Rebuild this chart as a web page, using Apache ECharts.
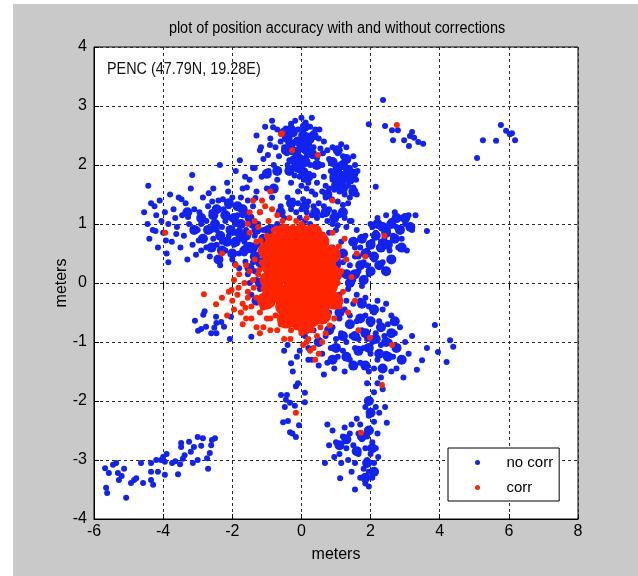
<!DOCTYPE html>
<html>
<head>
<meta charset="utf-8">
<title>position accuracy</title>
<script src="https://cdn.jsdelivr.net/npm/echarts@6/dist/echarts.min.js"></script>
<style>
  html, body { margin: 0; padding: 0; background: #fff; }
  #main { width: 638px; height: 576px; }
</style>
</head>
<body>
<div id="main"></div>
<script>
// axis ticks
var xTicks = [-6, -4, -2, 0, 2, 4, 6, 8];
var yTicks = [-4, -3, -2, -1, 0, 1, 2, 3, 4];

// no corr (blue), read off the picture cluster by cluster
var noCorrUpper = [
  [-0.55,2.55],[-0.45,2.62],[-0.3,2.7],[-0.18,2.75],[0.0,2.8],[0.12,2.72],[0.25,2.65],[0.4,2.6],
  [-0.6,2.4],[-0.48,2.45],[-0.35,2.5],[-0.22,2.55],[-0.1,2.6],[0.05,2.58],[0.18,2.5],[0.3,2.48],
  [0.5,2.45],[-0.5,2.3],[-0.38,2.35],[-0.25,2.38],[-0.12,2.42],[0.0,2.45],[0.1,2.38],[0.22,2.35],
  [0.35,2.3],[0.55,2.28],[-0.42,2.2],[-0.3,2.22],[-0.18,2.25],[-0.05,2.28],[0.08,2.25],[0.2,2.2],
  [0.32,2.15],[0.45,2.12],[-0.35,2.08],[-0.22,2.1],[-0.1,2.12],[0.02,2.1],[0.14,2.05],[0.26,2.0],
  [0.4,1.98],[-0.28,1.95],[-0.15,1.98],[-0.02,1.95],[0.1,1.9],[0.22,1.85],[0.35,1.82],[-0.2,1.82],
  [-0.05,1.8],[0.08,1.75],[0.2,1.7],[0.0,1.65],[0.15,1.6],[-0.1,1.55],[0.3,1.55],[-0.3,1.7],
  [0.45,1.7],[0.6,2.0],[0.62,2.2],[0.52,2.6],[0.65,2.4],[-0.65,2.15],[-0.7,2.6],[0.3,2.8],
  [-0.05,2.35],[0.15,2.15],[-0.2,2.0],[0.28,2.42],[-0.4,2.0],[0.05,2.0],
  [-0.82,2.64],[-0.59,2.54],[-1.17,2.3],[-0.91,2.34],[-0.97,2.17],[-1.4,1.95],[-1.63,1.8],
  [-1.3,2.5],[-1.05,2.65],[-0.9,2.45],[-0.75,2.3],[-1.2,2.25],[-0.85,2.75]
];
var noCorrUpperRight = [
  [0.75,2.25],[0.9,2.3],[1.05,2.2],[1.2,2.15],[1.35,2.1],[0.8,2.1],[0.95,2.05],[1.1,2.0],
  [1.25,1.98],[1.4,1.95],[1.55,2.0],[0.85,1.9],[1.0,1.88],[1.15,1.85],[1.3,1.82],[1.45,1.8],
  [0.9,1.75],[1.05,1.72],[1.2,1.7],[1.35,1.65],[1.5,1.62],[0.8,1.6],[0.95,1.58],[1.1,1.55],
  [1.25,1.5],[1.4,1.45],[1.6,1.5],[0.7,1.45],[0.88,1.42],[1.05,1.38],[1.2,1.32],[1.58,1.75],
  [1.62,1.9],[1.5,2.15],[1.3,2.3],[1.15,2.35],[0.65,1.8],[0.7,1.65],[1.35,1.35],[2.15,1.63]
];
var noCorrMiddle = [
  [-0.4,1.45],[-0.25,1.4],[-0.1,1.35],[0.05,1.42],[0.2,1.38],[0.35,1.3],[0.5,1.35],[0.65,1.3],
  [0.8,1.25],[0.95,1.2],[1.1,1.15],[1.25,1.1],[-0.3,1.25],[-0.15,1.2],[0.0,1.25],[0.15,1.2],
  [0.3,1.15],[0.45,1.1],[0.6,1.15],[0.75,1.05],[0.9,1.0],[1.05,0.98],[1.4,1.05],[-0.5,1.1],
  [0.4,1.5],[0.6,1.55],[-0.6,1.3],[0.1,1.05],[0.25,1.0],[-0.05,1.1],
  [-1.1,0.9],[-0.95,0.7],[-1.15,0.3],[-1.0,0.1],[-1.2,-0.1],[-0.9,0.45],[-1.05,-0.3],[-0.85,0.95],
  [-1.25,0.65],[-1.35,0.2],[-1.5,0.0],[-1.45,-0.2],[-0.7,1.0],[-0.55,0.95]
];
var noCorrLeft = [
  [-4.55,1.2],[-4.45,1.0],[-4.4,0.75],[-4.35,1.35],[-4.3,0.9],[-4.43,1.65],[-4.2,1.15],[-4.15,0.6],
  [-4.1,1.4],[-4.0,0.85],[-3.95,1.2],[-3.9,0.5],[-3.85,1.0],[-3.8,1.5],[-3.75,0.7],[-3.7,1.25],
  [-3.6,0.95],[-3.55,1.45],[-3.5,0.6],[-3.45,1.15],[-3.4,0.8],[-3.35,1.35],[-3.3,0.4],[-3.25,1.0],
  [-3.2,1.6],[-3.15,0.65],[-3.1,1.25],[-3.16,1.83],[-4.25,1.3],[-4.05,1.05],[-3.65,1.1],[-3.85,0.35],
  [-3.0,0.9],[-2.95,1.2],[-2.9,0.55],[-2.85,1.45],[-2.8,0.75],[-2.75,1.05],[-2.7,1.3],[-2.65,0.45],
  [-2.6,0.9],[-2.55,1.6],[-2.5,1.15],[-2.45,0.65],[-2.4,1.4],[-2.36,2.0],[-2.35,0.3],[-2.3,0.95],
  [-2.25,1.25],[-2.2,0.55],[-2.15,1.7],[-2.1,0.8],[-2.05,1.1],[-2.0,1.45],[-2.0,0.4],[-1.95,0.65],
  [-1.9,1.9],[-1.9,1.0],[-1.85,1.3],[-1.8,0.25],[-1.78,2.08],[-1.75,0.75],[-1.7,1.6],[-1.7,1.15],
  [-1.65,0.5],[-1.6,0.9],[-1.55,1.4],[-1.55,0.15],[-1.5,1.75],[-1.5,0.65],[-1.45,1.05],[-1.4,0.35],
  [-1.4,1.3],[-1.35,0.8],[-1.3,1.55],[-1.3,0.05],[-1.25,1.0],[-1.2,0.5],[-1.2,1.2],[-1.15,1.8],
  [-2.9,1.0],[-2.6,1.2],[-2.3,0.7],[-2.2,1.05],[-1.95,0.85],[-1.8,0.5],[-1.85,1.15],[-1.6,1.2],
  [-1.65,0.7],[-2.45,0.9],[-2.75,0.6],[-2.1,1.3],[-1.45,0.55],[-1.75,1.45],[-2.55,0.75],[-1.35,1.95],
  [-1.1,2.1],[-1.0,1.6],[-0.95,1.9],[-0.8,2.0],[-0.7,1.75],[-0.85,1.45],
  [-3.62,0.83],[-3.28,1.12],[-3.05,0.48],[-2.68,1.52],[-2.42,0.42],[-2.12,1.55],[-1.92,0.32],[-1.58,1.62],
  [-3.92,0.72],[-4.22,0.88],[-3.47,1.42],[-2.97,0.72],[-2.58,1.38],[-2.27,1.42],[-1.62,0.36],[-1.33,1.44]
];
var noCorrRight = [
  [0.6,0.7],[0.7,0.5],[0.8,0.85],[0.85,0.3],[0.9,0.6],[0.95,0.0],[1.0,0.9],[1.05,0.4],
  [1.1,-0.2],[1.15,0.7],[1.2,0.15],[1.25,0.5],[1.3,0.95],[1.35,-0.1],[1.4,0.3],[1.45,0.7],
  [1.5,0.05],[1.55,0.45],[1.6,0.9],[1.65,0.2],[1.7,0.6],[1.75,-0.05],[1.8,0.35],[1.85,0.8],
  [1.9,0.55],[1.95,0.15],[2.0,1.0],[2.05,0.7],[2.1,0.4],[2.15,0.85],[2.2,1.1],[2.25,0.6],
  [2.3,0.95],[2.35,0.35],[2.4,0.75],[2.45,1.15],[2.5,0.9],[2.55,0.55],[2.6,1.05],[2.65,0.8],
  [2.7,1.2],[2.75,0.95],[2.85,1.1],[2.9,0.75],[3.0,1.0],[3.1,1.15],[3.2,0.9],[3.3,1.15],
  [3.63,0.88],[1.2,0.35],[1.55,0.6],[1.9,0.3],[2.05,0.95],[2.3,0.7],[2.55,1.0],[1.0,0.2],
  [0.75,0.1],[1.3,-0.3],[1.65,0.45],[2.8,0.6],[3.05,0.55],[2.4,0.2],[1.45,1.05]
];
var noCorrLowerRight = [
  [0.1,-0.9],[0.2,-1.1],[0.3,-1.3],[0.35,-0.8],[0.45,-1.0],[0.5,-1.4],[0.55,-0.6],[0.6,-1.2],
  [0.7,-0.9],[0.75,-1.35],[0.8,-0.5],[0.85,-1.1],[0.9,-0.75],[0.95,-1.45],[1.0,-0.95],[1.05,-1.25],
  [1.1,-0.6],[1.15,-0.85],[1.2,-1.15],[1.25,-0.45],[1.3,-1.0],[1.35,-0.7],[1.4,-1.3],[1.45,-0.9],
  [1.5,-0.35],[1.55,-1.1],[1.6,-0.65],[1.65,-0.95],[1.7,-0.3],[1.7,-1.35],[1.75,-0.8],[1.8,-1.1],
  [1.85,-0.55],[1.9,-0.95],[1.95,-0.4],[2.0,-1.2],[2.0,-0.7],[2.05,-1.0],[2.1,-0.5],[2.15,-0.85],
  [2.2,-1.3],[2.25,-0.65],[2.3,-1.05],[2.35,-0.45],[2.4,-0.9],[2.45,-1.2],[2.5,-0.7],[2.55,-1.0],
  [2.6,-0.55],[2.65,-1.25],[2.7,-0.85],[2.75,-1.45],[2.8,-1.1],[2.85,-0.75],[2.9,-1.3],[3.0,-1.0],
  [3.1,-1.2],[3.2,-0.9],[2.95,-1.6],[2.6,-1.5],[3.86,-0.71],[4.3,-0.97],[4.39,-1.08],[4.2,-1.34],
  [3.95,-1.17],[3.63,-1.1],[3.49,-1.31],[3.34,-1.47],[1.6,-0.2],[1.85,-0.25],[2.2,-0.3],[1.4,-0.55],
  [2.1,-1.45],[2.3,-1.6],[1.95,-1.5],[2.45,-0.35],[1.25,-1.5],[0.65,-1.55],[1.9,-1.7]
];
var noCorrLowerStem = [
  [2.1,-1.85],[2.0,-2.0],[2.15,-2.1],[1.95,-2.25],[2.1,-2.35],[2.0,-2.5],[1.9,-2.6],[2.05,-2.7],
  [1.85,-2.8],[2.0,-2.9],[1.9,-3.0],[2.1,-3.05],[1.8,-3.15],[1.95,-3.2],[2.05,-3.3],[1.85,-3.4],
  [1.7,-2.4],[1.75,-2.65],[1.65,-2.9],[1.55,-3.05],[1.5,-2.75],[1.4,-2.55],[1.3,-2.8],[1.2,-2.6],
  [1.1,-2.9],[1.0,-2.7],[0.9,-2.5],[0.8,-2.75],[0.75,-2.4],[1.35,-3.0],[1.25,-2.45],[1.6,-2.3],
  [2.2,-2.55],[2.25,-2.2],[1.45,-3.2],[1.7,-3.3],[1.95,-3.45],[2.15,-2.8],[1.65,-2.55],[1.45,-2.4],
  [0.95,-2.95],[1.15,-3.05],[0.68,-3.05],[1.55,-3.5],[2.2,-1.7],[2.35,-1.8],[2.47,-2.37],[2.42,-2.1],
  [1.85,-2.1],[1.12,-3.31],[2.22,-2.95]
];
var noCorrCenterStem = [
  [-0.3,-1.36],[-0.13,-1.25],[-0.16,-1.75],[-0.1,-1.7],[0.1,-1.86],[0.1,-2.02],[-0.59,-1.9],[-0.42,-1.9],
  [-0.48,-2.1],[-0.33,-2.03],[-0.19,-2.08],[-0.53,-2.36],[-0.39,-2.34],[-0.07,-2.41],[-0.33,-2.53],[-0.26,-2.55],
  [-0.16,-2.61],[-0.45,-1.98],[-0.25,-1.5],[0.2,-1.3],[-0.5,-1.15],[-0.05,-1.15],[-0.4,-1.05]
];
var noCorrLeftSmall = [
  [-3.08,-0.64],[-2.84,-0.54],[-2.99,-0.81],[-2.9,-0.78],[-2.76,-0.74],[-2.61,-0.85],[-2.47,-0.57],[-2.46,-0.68],
  [-2.46,-0.85],[-2.32,-0.66],[-2.24,-0.74],[-2.8,-0.48],[-2.52,-0.76],[-2.04,-0.57],[-2.07,-0.95],[-1.45,-0.91]
];
var noCorrLowerLeft = [
  [-5.68,-3.14],[-5.57,-3.22],[-5.65,-3.47],[-5.62,-3.56],[-5.45,-3.08],[-5.36,-3.05],[-5.31,-3.22],[-5.28,-3.34],
  [-5.2,-3.27],[-5.13,-3.15],[-5.07,-3.64],[-4.93,-3.39],[-4.84,-3.34],[-4.78,-3.31],[-4.64,-3.05],[-4.58,-3.39],
  [-4.35,-3.05],[-4.35,-3.2],[-4.35,-3.34],[-4.29,-3.42],[-4.2,-3.0],[-4.15,-3.2],[-4.06,-3.0],[-4.0,-2.95],
  [-3.95,-3.03],[-3.9,-2.9],[-3.95,-3.25],[-3.74,-3.05],[-3.65,-3.02],[-3.57,-3.24],[-3.51,-3.07],[-3.48,-2.78],
  [-3.48,-2.71],[-3.43,-2.98],[-3.38,-2.92],[-3.25,-2.69],[-3.2,-2.86],[-3.14,-3.05],[-3.11,-2.78],[-3.0,-2.61],
  [-2.85,-2.63],[-3.0,-3.0],[-2.9,-2.76],[-2.73,-2.97],[-2.7,-3.15],[-2.65,-2.88],[-2.61,-2.75],[-2.59,-2.66],
  [-2.5,-2.63]
];
var noCorrFar = [
  [2.36,3.1],[1.95,2.69],[2.42,2.66],[2.62,2.59],[2.79,2.59],[2.65,2.42],[2.97,2.42],[3.14,2.49],
  [3.2,2.56],[3.11,2.32],[3.26,2.46],[3.38,2.39],[3.52,2.36],
  [5.77,2.68],[5.25,2.42],[5.63,2.41],[5.92,2.58],[6.03,2.52],[6.09,2.54],[6.18,2.42],[5.08,2.12]
];
// where the blue dots pile up into solid patches
var noCorrDense = [
  [-0.4,2.45],[-0.25,2.55],[-0.1,2.4],[0.05,2.5],[0.2,2.42],[-0.32,2.3],[-0.15,2.22],[0.0,2.3],
  [0.15,2.25],[0.3,2.2],[-0.22,2.08],[-0.05,2.1],[0.12,2.05],[-0.1,1.95],[0.05,1.88],[-0.3,2.6],
  [0.1,2.65],[-0.45,2.25],[0.35,2.5],[-0.5,2.55],[0.45,2.0],[-0.35,1.9],[0.2,1.8],
  [0.9,2.05],[1.05,1.95],[1.2,2.0],[1.35,1.9],[0.95,1.8],[1.1,1.75],[1.25,1.8],[1.4,1.75],
  [1.0,1.65],[1.2,1.6],[1.3,2.1],[1.5,1.85],[0.7,1.2],[0.95,1.1],[1.2,1.2],[0.75,1.5],[1.05,2.25],[1.5,1.55],
  [-0.3,1.35],[0.1,1.3],[0.4,1.2],[-0.6,1.2],[-0.8,1.6],[-1.0,1.85],[-0.7,1.9],
  [-2.7,0.9],[-2.5,1.0],[-2.35,0.8],[-2.2,1.15],[-2.05,0.9],[-1.9,0.7],[-1.75,1.0],[-1.6,0.8],
  [-1.5,1.1],[-2.3,0.55],[-2.0,0.5],[-1.65,0.55],[-1.4,0.6],[-2.45,1.25],[-1.85,1.3],[-1.3,0.9],
  [-2.9,1.1],[-1.2,0.35],[-1.5,0.25],[-1.2,0.0],[-1.05,0.5],[-0.95,0.9],[-1.3,-0.3],
  [-2.85,0.75],[-2.6,0.6],[-2.55,1.15],[-2.15,0.7],[-1.95,1.1],[-1.8,0.85],[-1.55,0.6],[-1.4,1.0],
  [-1.7,1.25],[-2.1,1.35],[-1.35,0.45],[-1.1,0.75],[-2.4,0.4],[-3.1,0.9],[-3.3,1.2],
  [1.85,0.5],[2.0,0.65],[2.15,0.8],[2.3,0.6],[2.45,0.85],[2.6,1.0],[2.2,1.0],[2.5,0.65],
  [1.7,0.3],[1.55,0.15],[2.75,1.1],[1.4,0.0],[1.2,0.5],[1.5,0.7],[1.0,0.3],[2.1,0.45],
  [2.35,0.95],[2.85,0.9],[3.0,1.1],[1.3,0.15],[1.75,0.75],
  [2.0,0.2],[2.25,0.3],[2.6,0.4],[2.9,0.6],[3.15,0.95],[2.7,0.75],[1.8,0.05],[2.45,0.2],
  [1.4,-0.7],[1.55,-0.9],[1.7,-0.6],[1.85,-0.85],[2.0,-0.65],[2.15,-0.95],[2.3,-0.75],[2.45,-1.0],
  [2.6,-0.85],[1.95,-1.1],[2.25,-1.2],[2.5,-1.25],[1.65,-1.15],[2.75,-1.1],[1.2,-0.9],[1.0,-1.1],
  [0.5,-1.0],[0.8,-0.8],[0.9,-1.3],[1.3,-1.25],[1.1,-0.5],[1.75,-0.35],[2.1,-0.45],[2.7,-0.65],
  [2.9,-1.3],[2.35,-1.45],[1.5,-1.4],[1.85,-1.4],
  [2.0,-2.2],[1.95,-2.5],[2.05,-2.8],[1.9,-3.05],[1.95,-2.0],
  [1.75,-2.6],[1.6,-2.85],[2.1,-3.2],[1.85,-3.3],[1.3,-2.65],[1.1,-2.75]
];

// corr (red)
var corrCore = [
  [-0.7,0.1],[-0.65,0.35],[-0.6,-0.2],[-0.55,0.6],[-0.5,-0.4],[-0.45,0.15],[-0.4,0.45],[-0.35,-0.15],
  [-0.3,0.75],[-0.25,-0.45],[-0.2,0.25],[-0.15,0.55],[-0.1,-0.05],[-0.05,-0.3],[0.0,0.85],[0.05,0.4],
  [0.1,0.1],[0.15,-0.5],[0.2,0.65],[0.25,-0.2],[0.3,0.3],[0.35,0.0],[0.4,0.55],[0.45,-0.35],
  [0.5,0.2],[0.55,-0.1],[0.6,0.45],[0.65,0.05],[0.7,-0.3],[0.75,0.3],[0.8,-0.05],[-0.2,-0.6],
  [0.3,-0.6],[0.55,0.7],[-0.75,-0.1],[0.05,0.65],[-0.6,0.45],[-0.3,0.05],[0.15,-0.2],[-0.05,0.2],
  [-0.92,0.3],[-0.88,-0.2],[0.92,0.15],[0.88,0.48],[-0.5,0.85],[0.35,0.85],[0.1,-0.72],[-0.45,-0.62],
  [0.6,-0.55],[-0.95,0.05],[-1.02,-0.3],[-1.0,0.55],[0.95,-0.3],[-0.8,0.7]
];
var corrSpread = [
  [-2.1,-0.15],[-2.0,-0.3],[-1.95,0.05],[-1.85,-0.2],[-1.8,0.15],[-1.7,-0.35],[-1.65,0.0],[-1.6,0.3],
  [-1.55,-0.15],[-1.5,0.2],[-1.45,-0.4],[-1.4,0.05],[-1.35,0.4],[-1.3,-0.25],[-1.25,0.15],[-1.2,-0.5],
  [-1.15,0.35],[-1.1,-0.1],[-1.05,0.55],[-1.0,-0.35],[-0.95,0.2],[-0.9,-0.6],[-0.9,0.75],[-0.85,-0.05],
  [-2.82,-0.19],[-2.47,-0.36],[-2.3,-0.25],[-1.75,-0.5],[-1.9,0.3],[-1.6,-0.6],
  [-1.14,1.4],[-1.2,1.2],[-1.05,1.3],[-0.95,1.05],[-0.85,1.25],[-0.8,0.9],[-0.7,1.15],[-0.65,0.85],
  [-0.55,1.05],[-0.45,0.9],[-0.35,1.1],[-0.25,0.95],[-0.15,1.05],[0.0,1.0],[0.15,1.1],[0.3,0.95],
  [0.45,0.9],[-1.0,0.8],[-1.25,0.95],[-1.3,0.7],[-1.15,0.55],[-0.75,0.7],
  [0.85,0.6],[0.9,0.25],[0.95,-0.2],[1.0,0.45],[1.05,0.0],[1.1,-0.4],[1.15,0.2],[1.2,-0.15],
  [1.3,0.4],[1.35,-0.5],[1.45,0.1],[1.55,-0.3],[0.9,0.85],[1.25,0.75],[1.6,0.5],[0.95,-0.6],
  [-0.75,-0.55],[-0.6,-0.7],[-0.45,-0.65],[-0.3,-0.8],[-0.15,-0.75],[0.0,-0.85],[0.1,-0.7],[0.2,-0.95],
  [0.3,-0.8],[0.35,-1.1],[0.45,-0.9],[0.5,-1.2],[0.55,-0.75],[0.6,-1.0],[0.7,-0.85],[0.4,-1.3],
  [0.25,-1.15],[-0.5,-0.95],[-0.9,-0.8],[-1.1,-0.75],[0.75,-0.55],[0.15,-1.0],
  [-2.15,-0.55],[-1.95,-0.45],[-1.7,-0.7],[-1.45,-0.6],[-1.3,-0.75],[-1.2,-0.85],[-1.0,-0.6],[-0.85,-0.35],
  [-0.7,-0.8],[-1.55,-0.25],[-1.5,1.2],[-1.4,1.4],[-1.35,1.05],[-1.5,0.85],
  [-1.22,0.22],[-1.08,-0.22],[-1.38,-0.08],[-1.18,0.72],[-0.98,0.42],[-1.62,-0.42],[-1.82,-0.08],[-2.02,-0.12],
  [-1.12,-0.42],[-0.72,0.92],[0.62,0.82],[1.02,-0.32],[1.08,0.62],[0.82,-0.72],[-0.32,-0.95],[0.05,-1.05]
];
var corrStray = [
  [-3.94,0.85],[-0.59,2.52],[0.48,2.17],[-0.27,2.25],[-0.56,2.54],[2.76,2.68],[1.98,-0.93],[2.62,-1.05],
  [2.33,-1.73],[1.72,-2.54],[-0.16,-2.2],[-1.55,1.0],[-2.3,0.5],[0.9,1.4],[1.65,-0.8],[-0.9,1.55],
  [1.85,0.45],[2.4,0.8]
];

var noCorr = [].concat(noCorrUpper, noCorrUpperRight, noCorrMiddle, noCorrLeft, noCorrRight,
  noCorrLowerRight, noCorrLowerStem, noCorrCenterStem, noCorrLeftSmall, noCorrLowerLeft, noCorrFar);
var corr = [].concat(corrSpread, corrStray);

var blue = '#1222f0';
var red = '#ff2400';
var fontName = "'Liberation Sans', Arial, sans-serif";

var chart = echarts.init(document.getElementById('main'));
var option = {
  animation: false,
  backgroundColor: '#fff',
  textStyle: {fontFamily: fontName},
  graphic: [
    {type: 'rect', z: -10, shape: {x: 13, y: 4, width: 625, height: 572}, style: {fill: '#c9c9c9'}},
    {type: 'text', x: 337, y: 29, scaleX: 0.9, style: {text: 'plot of position accuracy with and without corrections',
      textAlign: 'center', textVerticalAlign: 'middle', font: '16px ' + fontName, fill: '#000'}},
    {type: 'text', x: 107, y: 70, z: 10, scaleX: 0.9, style: {text: 'PENC (47.79N, 19.28E)',
      textAlign: 'left', textVerticalAlign: 'middle', font: '16px ' + fontName, fill: '#111'}}
  ],
  grid: {
    left: 94, right: 60, top: 47, bottom: 57,
    show: true, backgroundColor: '#fff', borderColor: '#000', borderWidth: 1
  },
  legend: {
    orient: 'vertical',
    left: 448, top: 448,
    backgroundColor: '#fff', borderColor: '#000', borderWidth: 1, borderRadius: 0,
    padding: [7, 6, 6, 27],
    itemWidth: 48, itemHeight: 5, itemGap: 10,
    textStyle: {fontSize: 15, color: '#000', fontFamily: fontName},
    data: [{name: 'no corr', icon: 'circle'}, {name: 'corr', icon: 'circle'}]
  },
  xAxis: [{
    type: 'value', min: xTicks[0], max: xTicks[xTicks.length - 1], interval: 2,
    name: 'meters', nameLocation: 'middle', nameGap: 28,
    nameTextStyle: {fontSize: 16, color: '#000'},
    axisLine: {onZero: false, lineStyle: {color: '#000'}},
    axisTick: {inside: true, length: 5, lineStyle: {color: '#000'}},
    axisLabel: {fontSize: 16, color: '#000', margin: 5},
    splitLine: {show: true, lineStyle: {color: '#2a2a2a', type: [3, 3]}}
  }, {
    type: 'value', position: 'top', min: xTicks[0], max: xTicks[xTicks.length - 1], interval: 2,
    axisLine: {show: false}, axisLabel: {show: false}, splitLine: {show: false},
    axisTick: {inside: true, length: 5, lineStyle: {color: '#000'}}
  }],
  yAxis: [{
    type: 'value', min: yTicks[0], max: yTicks[yTicks.length - 1], interval: 1,
    name: 'meters', nameLocation: 'middle', nameGap: 24, nameMoveOverlap: false,
    nameTextStyle: {fontSize: 16, color: '#000'},
    axisLine: {onZero: false, lineStyle: {color: '#000'}},
    axisTick: {inside: true, length: 5, lineStyle: {color: '#000'}},
    axisLabel: {fontSize: 16, color: '#000', margin: 7},
    splitLine: {show: true, lineStyle: {color: '#2a2a2a', type: [3, 3]}}
  }, {
    type: 'value', position: 'right', min: yTicks[0], max: yTicks[yTicks.length - 1], interval: 1,
    axisLine: {show: false}, axisLabel: {show: false}, splitLine: {show: false},
    axisTick: {inside: true, length: 5, lineStyle: {color: '#000'}}
  }],
  series: [
    {
      name: 'no corr', type: 'scatter', symbol: 'circle', symbolSize: 6,
      itemStyle: {color: blue, opacity: 1}, data: noCorr
    },
    {
      name: 'no corr', type: 'scatter', symbol: 'circle', symbolSize: 10,
      itemStyle: {color: blue, opacity: 1}, data: noCorrDense
    },
    {
      name: 'corr', type: 'scatter', symbol: 'circle', symbolSize: 18,
      itemStyle: {color: red, opacity: 1}, data: corrCore
    },
    {
      name: 'corr', type: 'scatter', symbol: 'circle', symbolSize: 6,
      itemStyle: {color: red, opacity: 1}, data: corr
    }
  ]
};
chart.setOption(option);
</script>
</body>
</html>
